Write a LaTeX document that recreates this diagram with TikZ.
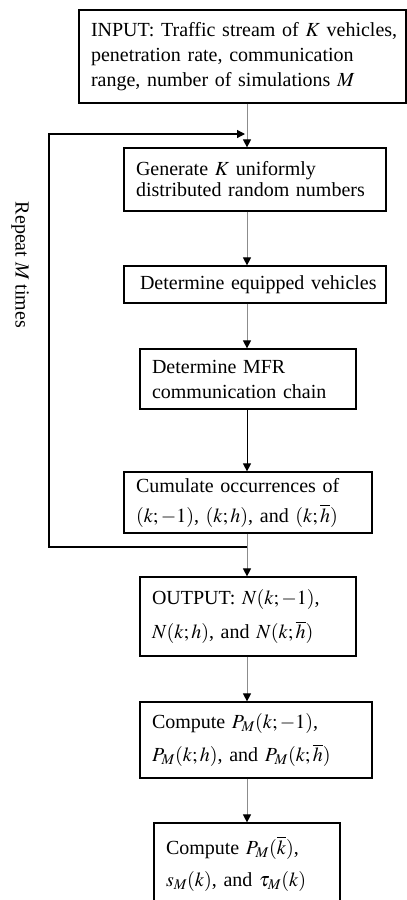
\documentclass[tikz,border=0pt]{standalone}
\usepackage{mathptmx}
\usepackage{fontspec}
\setmainfont{Liberation Serif}
\usetikzlibrary{arrows.meta}

\tikzset{
  box/.style={draw,line width=1.2pt,align=left,inner xsep=12pt,inner ysep=0pt,
    font=\fontsize{20}{24}\selectfont},
  flow/.style={draw=black!45,line width=1pt,-{Triangle[black,length=8pt,width=8pt]}}
}

\begin{document}
\begin{tikzpicture}[x=1pt,y=-1pt]
  \path[use as bounding box,clip] (0,0) rectangle (407,900);

  \node[box,text width=303pt,minimum height=93pt,font=\fontsize{20}{25}\selectfont] (input) at (242.5,56.5)
    {\mbox{INPUT: Traffic stream of $K$ vehicles,}\\ \mbox{penetration rate, communication}\\ \mbox{range, number of simulations $M$}};
  \node[box,text width=238pt,minimum height=63pt,font=\fontsize{20}{21}\selectfont] (gen) at (255,179.5)
    {\mbox{Generate $K$ uniformly}\\ \mbox{distributed random numbers}};
  \node[box,text width=240pt,minimum height=37pt,inner xsep=11pt] (equip) at (255,284.5)
    {\mbox{\hspace*{5pt}Determine equipped vehicles}};
  \node[box,text width=192pt,minimum height=60pt,font=\fontsize{20}{25}\selectfont] (mfr) at (248,379)
    {\mbox{Determine MFR}\\ \mbox{communication chain}};
  \node[box,text width=224pt,minimum height=61pt,font=\fontsize{20}{30}\selectfont] (cum) at (248,502.5)
    {\mbox{Cumulate occurrences of}\\ \mbox{$(k;-1)$, $(k;h)$, and $(k;\overline{h})$}};
  \node[box,text width=192pt,minimum height=79pt,font=\fontsize{20}{34}\selectfont] (out) at (248,616.5)
    {\mbox{OUTPUT: $N(k;-1)$,}\\ \mbox{$N(k;h)$, and $N(k;\overline{h})$}};
  \node[box,text width=208pt,minimum height=76pt,font=\fontsize{20}{33}\selectfont] (compP) at (256,740)
    {\mbox{Compute $P_M(k;-1)$,}\\ \mbox{$P_M(k;h)$, and $P_M(k;\overline{h})$}};
  \node[box,text width=162pt,minimum height=82pt,font=\fontsize{20}{32}\selectfont] (final) at (247,864)
    {\mbox{Compute $P_M(\overline{k})$,}\\ \mbox{$s_M(k)$, and $\tau_M(k)$}};

  \node[rotate=-90,font=\fontsize{20}{24}\selectfont] (repeat) at (20,265) {Repeat $M$ times};

  % main column of arrows
  \coordinate (spine) at (247,0);
  \foreach \a/\b/\c in {input/gen/black!45,gen/equip/black!45,equip/mfr/black!45,mfr/cum/black,
                        cum/out/black!45,out/compP/black!45,compP/final/black!45}
    \draw[flow,draw=\c] (\a.south -| spine) -- (\b.north -| spine);

  % repeat loop
  \coordinate (back) at (247,547);
  \coordinate (turn) at (49,547);
  \coordinate (join) at (245,134);
  \draw[line width=1.2pt,-{Triangle[length=8pt,width=8pt]}] (back) -- (turn) |- (join);
\end{tikzpicture}
\end{document}
